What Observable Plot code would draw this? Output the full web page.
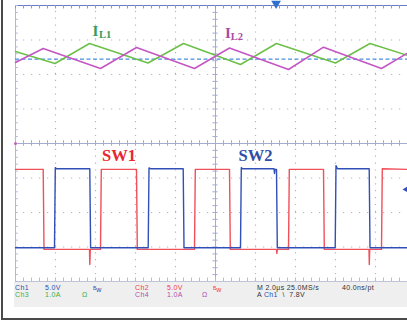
<!DOCTYPE html>
<html><head><meta charset="utf-8">
<script src="https://cdn.jsdelivr.net/npm/d3@7"></script>
<script src="https://cdn.jsdelivr.net/npm/@observablehq/plot@0.6"></script>
<style>
body{margin:0;background:#fff;}
#wrap{position:relative;width:407px;height:322px;overflow:hidden;background:#fff;font-family:"Liberation Sans",Arial,sans-serif;}
#lb{position:absolute;left:1px;top:0;width:2px;height:320px;background:#4a4a4a;}
#bb{position:absolute;left:1px;top:318px;width:406px;height:2px;background:#4a4a4a;}
#panel{position:absolute;left:14px;top:282px;width:393px;height:25px;background:#efefef;}
#chart{position:absolute;left:0;top:0;}
.t{position:absolute;font-size:7px;line-height:6px;height:6px;letter-spacing:0.35px;white-space:nowrap;}
.r1{top:285.2px}.r2{top:291.6px}
.b{color:#2a4fb0}.r{color:#f0404a}.g{color:#3cb04a}.m{color:#b050b0}.k{color:#333}
.sup{font-size:5px;vertical-align:2px;letter-spacing:0}
</style></head>
<body><div id="wrap"><div id="panel"></div><div id="chart"></div>
<div class="t r1 b" style="left:15px">Ch1</div>
<div class="t r1 b" style="left:45px">5.0V</div>
<div class="t r1 b" style="left:93px"><span class="sup">B</span>w</div>
<div class="t r1 r" style="left:135px">Ch2</div>
<div class="t r1 r" style="left:167px">5.0V</div>
<div class="t r1 r" style="left:213px"><span class="sup">B</span>w</div>
<div class="t r1 k" style="left:257px">M 2.0µs 25.0MS/s</div>
<div class="t r1 k" style="left:342px">40.0ns/pt</div>
<div class="t r2 g" style="left:15px">Ch3</div>
<div class="t r2 g" style="left:45px">1.0A</div>
<div class="t r2 g" style="left:82px">Ω</div>
<div class="t r2 m" style="left:135px">Ch4</div>
<div class="t r2 m" style="left:167px">1.0A</div>
<div class="t r2 m" style="left:202px">Ω</div>
<div class="t r2 k" style="left:257px">A <span class="b">Ch1</span> &nbsp;\ &nbsp;7.8V</div>
<div id="lb"></div><div id="bb"></div></div>
<script>
// Time axis in µs (2 µs/div), vertical values in screen divisions (0 = centre line)
const sw1T = [0, 1.385, 1.425, 3.70, 3.715, 3.74, 4.25, 4.29, 6.05, 6.09, 8.95, 8.99, 10.70, 10.74, 13.05, 13.07, 13.09, 13.65, 13.69, 15.40, 15.44, 17.675, 17.69, 17.71, 18.30, 18.34, 19.6];
const sw1V = [-0.75, -0.75, -3.07, -3.07, -3.51, -3.07, -3.07, -0.75, -0.75, -3.07, -3.07, -0.75, -0.75, -3.07, -3.07, -3.19, -3.07, -3.07, -0.75, -0.75, -3.07, -3.07, -3.51, -3.07, -3.07, -0.73, -0.75];

const sw2T = [0, 1.95, 1.99, 2.05, 3.715, 3.755, 6.635, 6.675, 6.75, 8.385, 8.425, 11.25, 11.29, 11.35, 12.925, 12.95, 12.975, 13.05, 13.09, 15.985, 16.025, 16.1, 17.685, 17.725, 19.6];
const sw2V = [-3.02, -3.02, -0.70, -0.73, -0.73, -3.02, -3.02, -0.71, -0.73, -0.73, -3.02, -3.02, -0.70, -0.73, -0.73, -0.87, -0.75, -0.75, -3.02, -3.02, -0.64, -0.73, -0.73, -3.02, -3.02];

const il1T = [0, 1.975, 3.70, 6.625, 8.40, 11.25, 13.05, 16.0, 17.725, 19.6];
const il1V = [2.667, 2.319, 2.899, 2.333, 2.899, 2.290, 2.899, 2.333, 2.899, 2.551];

const il2T = [0, 1.385, 4.25, 6.05, 8.95, 10.70, 13.65, 15.40, 18.30, 19.6];
const il2V = [2.348, 2.754, 2.174, 2.783, 2.174, 2.768, 2.145, 2.791, 2.174, 2.623];

const refLevel = 2.443;        // dashed reference line (div)
const triggerTime = 13.03;     // trigger position (µs)
const triggerLevel = -1.33;    // Ch1 trigger level marker (div)

const labelText = ["SW1", "SW2"];
const xDomain = [0, 19.6], yDomain = [-4, 4];

const pts = (T, V) => T.map((t, i) => ({t, v: V[i]}));
const sw1 = pts(sw1T, sw1V), sw2 = pts(sw2T, sw2V), il1 = pts(il1T, il1V), il2 = pts(il2T, il2V);

const majorX = [2, 4, 6, 8, 12, 14, 16, 18];
const majorY = [-3, -2, -1, 1, 2, 3];
const minorX = d3.range(0, 19.6001, 0.4);
const minorY = d3.range(-4, 4.0001, 0.2);

const dot = "#b2b4c6", axisC = "#a4acd0";
const serif = "Liberation Serif, Times New Roman, serif";

const chart = Plot.plot({
  width: 407, height: 283,
  marginLeft: 15, marginRight: 0, marginTop: 5, marginBottom: 2,
  x: {domain: xDomain, axis: null},
  y: {domain: yDomain, axis: null},
  style: {background: "transparent", overflow: "visible"},
  marks: [
    Plot.ruleX(majorX, {x: d => d, y1: -4, y2: 4, stroke: dot, strokeWidth: 1.2, strokeDasharray: "1.2,5.7"}),
    Plot.ruleY(majorY, {y: d => d, x1: 0, x2: 19.6, stroke: dot, strokeWidth: 1.2, strokeDasharray: "1.2,6.8"}),
    Plot.ruleX([10], {stroke: axisC, strokeWidth: 1}),
    Plot.ruleY([0], {stroke: axisC, strokeWidth: 1}),
    Plot.ruleX(minorX, {x: d => d, y1: -0.08, y2: 0.08, stroke: axisC}),
    Plot.ruleY(minorY, {y: d => d, x1: 9.87, x2: 10.13, stroke: axisC}),
    Plot.ruleY([4], {stroke: "#6a7cc8", strokeWidth: 1.2}),
    Plot.ruleY([-4], {stroke: "#c0c4d8"}),
    Plot.ruleX([0], {stroke: "#b0b8d8"}),
    Plot.ruleX(minorX, {x: d => d, y1: 4, y2: 3.9, stroke: "#8a96cc"}),
    Plot.ruleX(minorX, {x: d => d, y1: -4, y2: -3.9, stroke: "#b8bcd0"}),
    Plot.ruleY(minorY, {y: d => d, x1: 0, x2: 0.14, stroke: "#b0b8d8"}),
    Plot.ruleY([refLevel], {stroke: "#4a8fe0", strokeWidth: 1.3, strokeDasharray: "4,2.5"}),
    Plot.line(il1, {x: "t", y: "v", stroke: "#6cc048", strokeWidth: 1.5}),
    Plot.line(il2, {x: "t", y: "v", stroke: "#c456c4", strokeWidth: 1.5}),
    Plot.line(sw1, {x: "t", y: "v", stroke: "#f0505a", strokeWidth: 1.4}),
    Plot.line(sw2, {x: "t", y: "v", stroke: "#3050b8", strokeWidth: 1.4}),
    // labels
    Plot.text(["I"], {x: 3.85, y: 3.13, text: d => d, fill: "#2f9e5c", fontFamily: serif, fontWeight: "bold", fontSize: 15, textAnchor: "start", lineAnchor: "bottom"}),
    Plot.text(["L1"], {x: 4.17, y: 3.07, text: d => d, fill: "#2f9e5c", fontFamily: serif, fontWeight: "bold", fontSize: 10.5, textAnchor: "start", lineAnchor: "bottom"}),
    Plot.text(["I"], {x: 10.48, y: 3.07, text: d => d, fill: "#a94aa6", fontFamily: serif, fontWeight: "bold", fontSize: 15, textAnchor: "start", lineAnchor: "bottom"}),
    Plot.text(["L2"], {x: 10.76, y: 3.01, text: d => d, fill: "#a94aa6", fontFamily: serif, fontWeight: "bold", fontSize: 10.5, textAnchor: "start", lineAnchor: "bottom"}),
    Plot.text([labelText[0]], {x: 4.33, y: -0.51, text: d => d, fill: "#e8262e", fontFamily: serif, fontWeight: "bold", fontSize: 16.5, textAnchor: "start", lineAnchor: "bottom"}),
    Plot.text([labelText[1]], {x: 11.15, y: -0.51, text: d => d, fill: "#2e4ea8", fontFamily: serif, fontWeight: "bold", fontSize: 16.5, textAnchor: "start", lineAnchor: "bottom"}),
    // markers
    Plot.dot([triggerTime], {x: d => d, y: 4, dy: -2, symbol: "triangle", rotate: 180, r: 3.6, fill: "#2f6fd0", stroke: "none"}),
    Plot.dot([triggerLevel], {x: 19.6, y: d => d, symbol: "triangle", rotate: -90, r: 3.2, fill: "#3050c0", stroke: "none"}),
    Plot.dot([0], {x: 0, y: d => d, r: 1.5, fill: "#c060c0", stroke: "none"})
  ]
});
document.getElementById("chart").appendChild(chart);
</script>
</body></html>
